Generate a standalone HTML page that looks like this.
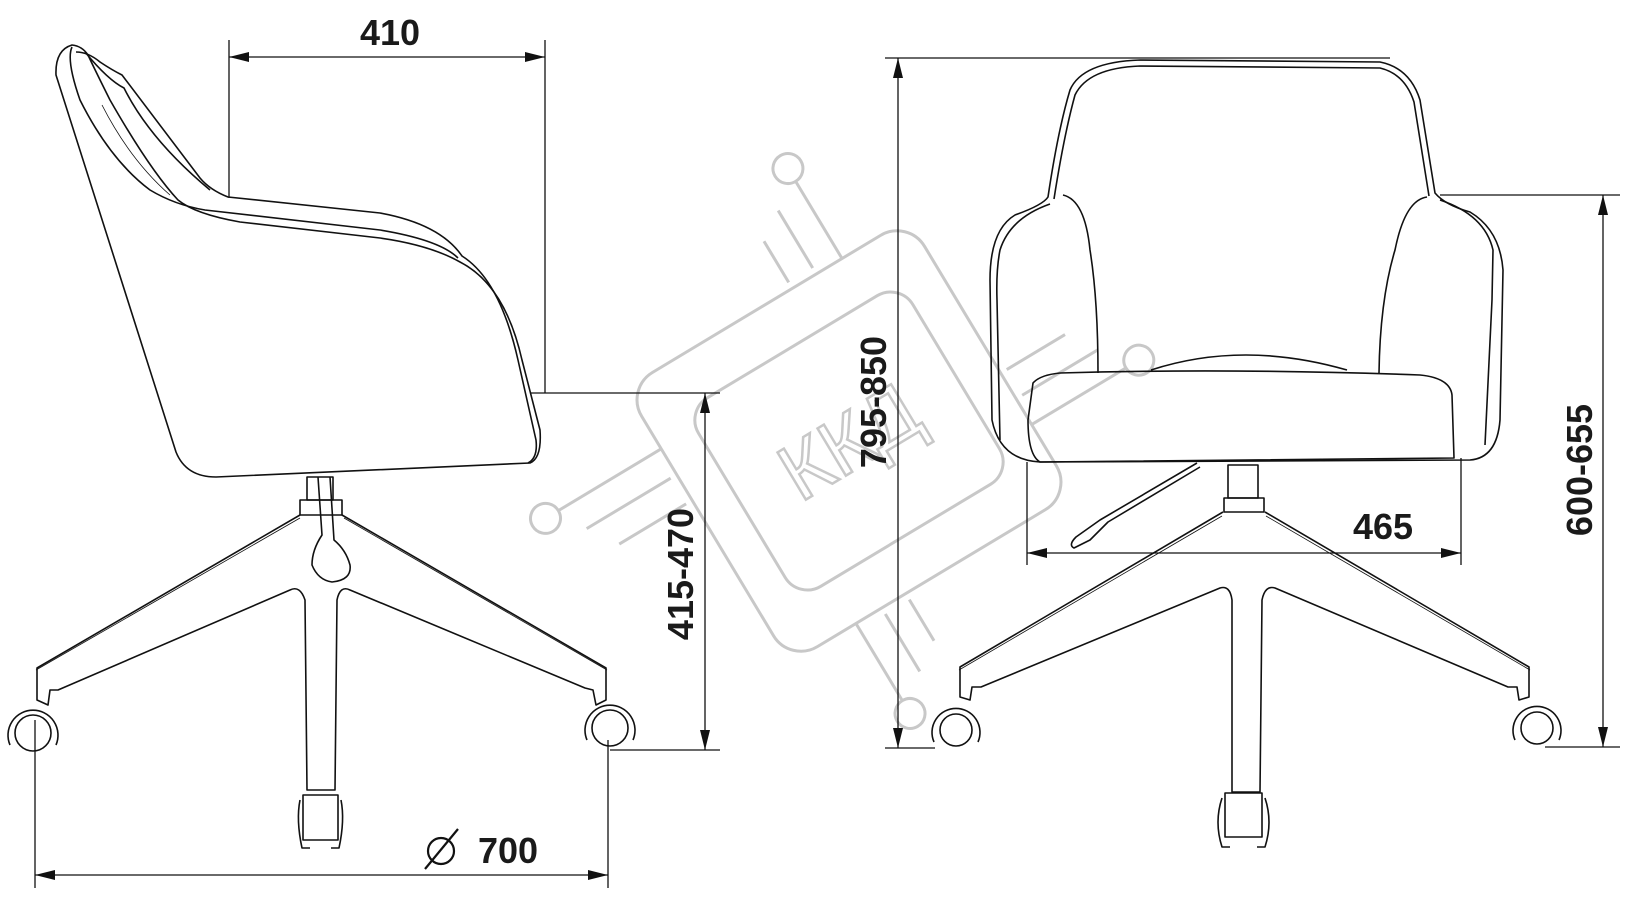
<!DOCTYPE html>
<html><head><meta charset="utf-8"><style>
html,body{margin:0;padding:0;background:#fff;}
svg{display:block;}
text{font-family:"Liberation Sans",sans-serif;font-weight:bold;fill:#1a1a1a;}
</style></head><body>
<svg width="1628" height="900" viewBox="0 0 1628 900" xmlns="http://www.w3.org/2000/svg">
<defs>
<marker id="ar" viewBox="0 0 20 10" refX="20" refY="5" markerWidth="20" markerHeight="10" markerUnits="userSpaceOnUse" orient="auto-start-reverse">
<path d="M0,0 L20,5 L0,10 Z" fill="#111"/>
</marker>
</defs>

<!-- watermark -->
<g transform="translate(849,441) rotate(-31)" fill="none" stroke="#c8c8c8" stroke-width="3">
<rect x="-165" y="-160" width="330" height="320" rx="32"/>
<rect x="-125" y="-110" width="250" height="220" rx="26"/>
<text x="0" y="28" text-anchor="middle" font-size="80" style="fill:none;stroke:#c8c8c8;stroke-width:2.5;font-weight:normal">ККД</text>
<circle cx="88" cy="-265" r="15"/><line x1="88" y1="-250" x2="88" y2="-160"/>
<line x1="58" y1="-234" x2="58" y2="-167"/><line x1="30" y1="-215" x2="30" y2="-167"/>
<circle cx="-88" cy="265" r="15"/><line x1="-88" y1="250" x2="-88" y2="160"/>
<line x1="-58" y1="234" x2="-58" y2="167"/><line x1="-30" y1="215" x2="-30" y2="167"/>
<circle cx="-300" cy="-90" r="15"/><line x1="-285" y1="-90" x2="-165" y2="-90"/>
<line x1="-270" y1="-60" x2="-172" y2="-60"/><line x1="-250" y1="-30" x2="-172" y2="-30"/>
<circle cx="290" cy="80" r="15"/><line x1="275" y1="80" x2="165" y2="80"/>
<line x1="260" y1="50" x2="172" y2="50"/><line x1="240" y1="20" x2="172" y2="20"/>
</g>

<g fill="none" stroke="#111" stroke-width="1.6" stroke-linejoin="round">
<!-- SIDE VIEW -->
<path d="M72,45 Q55,50 56,75 L176,452 Q186,477 216,477 L530,463 Q542,458 540,430 L522,360 Q505,285 460,262 Q430,245 380,238 L240,222 Q195,214 178,200 Q150,170 110,100 Q95,70 88,55 Q82,46 72,45 Z"/>
<path d="M72,47 Q66,60 80,100 Q110,160 150,190 Q175,205 205,210 L380,230 Q440,240 458,258"/>
<path d="M76,52 Q88,52 100,62 Q112,70 122,75 L200,178 Q210,190 228,197 L380,213 Q440,224 462,256 Q500,280 518,360 L536,440 Q538,458 528,463"/>
<path d="M85,52 Q108,80 124,88 Q150,140 210,190"/>
<path d="M102,105 Q130,160 170,195" stroke-width="0.8"/>
<!-- column -->
<rect x="307" y="477" width="26" height="23"/>
<path d="M300,500 L342,500 L342,515 L300,515 Z"/>
<path d="M318,477 L322,535 Q312,550 312,565 Q318,580 332,582 Q352,580 350,565 Q346,550 334,540 L330,477"/>
<!-- legs -->
<path d="M300,515 L37,668 L37,700 L48,705 L50,690 L58,690 L290,590 Q300,585 305,600 L307,790 L335,790 L337,600 Q340,585 350,590 L585,688 L593,690 L596,705 L606,700 L606,668 L342,515"/>
<path d="M36,670 L300,518" stroke-width="0.8"/>
<path d="M607,670 L344,518" stroke-width="0.8"/>
<!-- wheels side -->
<circle cx="33" cy="733" r="18"/><path d="M10,745 A25,25 0 1 1 56,745"/>
<circle cx="610" cy="728" r="18"/><path d="M587,740 A25,25 0 1 1 633,740"/>
<rect x="303" y="795" width="35" height="45"/>
<path d="M300,800 Q296,820 302,848 L310,848 M341,800 Q345,820 339,848 L331,848"/>

<!-- FRONT VIEW -->
<path d="M1048,197 Q1058,130 1070,90 Q1082,62 1140,60 L1380,62 Q1410,68 1420,100 L1435,193 Q1445,205 1470,212 Q1500,230 1503,270 L1500,420 Q1497,458 1470,460 L1040,462 Q1000,460 992,420 L990,280 Q990,230 1015,215 Q1043,205 1048,197 Z"/>
<path d="M1054,199 Q1064,135 1075,95 Q1088,68 1140,66 L1380,68 Q1405,74 1414,102 L1429,196"/>
<path d="M1050,204 Q1010,218 1000,250 Q996,270 997,300 L1000,440"/>
<path d="M1440,200 Q1485,215 1493,250 L1492,300 L1485,445"/>
<path d="M1063,195 Q1085,200 1090,250 Q1098,300 1098,373"/>
<path d="M1427,197 Q1405,200 1395,250 Q1380,300 1379,373"/>
<path d="M1151,370 Q1243,340 1347,370"/>
<path d="M1033,383 Q1040,375 1060,373 Q1230,368 1420,375 Q1450,378 1452,395 L1454,458 L1040,462 Q1028,455 1028,420 Z"/>
<!-- front base -->
<rect x="1228" y="465" width="30" height="33"/>
<rect x="1224" y="498" width="40" height="14"/>
<path d="M1197,463 L1100,520 L1076,537 Q1068,545 1074,548 L1090,540 L1108,522 L1200,467"/>
<path d="M1223,512 L960,667 L960,697 L970,700 L972,687 L981,687 L1220,588 Q1230,585 1232,600 L1232,792 L1260,792 L1262,600 Q1265,585 1275,588 L1508,687 L1517,687 L1519,700 L1529,697 L1529,667 L1265,512"/>
<path d="M959,670 L1222,516" stroke-width="0.8"/>
<path d="M1530,670 L1266,516" stroke-width="0.8"/>
<circle cx="956" cy="730" r="16"/><path d="M934,742 A24,24 0 1 1 978,742"/>
<circle cx="1537" cy="728" r="16"/><path d="M1515,740 A24,24 0 1 1 1559,740"/>
<rect x="1225" y="793" width="37" height="44"/>
<path d="M1222,798 Q1214,822 1222,847 L1230,847 M1265,798 Q1273,822 1265,847 L1257,847"/>
</g>

<!-- DIMENSIONS -->
<g stroke="#111" stroke-width="1.3" fill="none">
<line x1="229" y1="40" x2="229" y2="198"/>
<line x1="545" y1="40" x2="545" y2="393"/>
<line x1="229" y1="57" x2="545" y2="57" marker-start="url(#ar)" marker-end="url(#ar)"/>
<line x1="530" y1="393" x2="720" y2="393"/>
<line x1="610" y1="750" x2="720" y2="750"/>
<line x1="705" y1="393" x2="705" y2="750" marker-start="url(#ar)" marker-end="url(#ar)"/>
<line x1="885" y1="58" x2="1390" y2="58"/>
<line x1="885" y1="748" x2="935" y2="748"/>
<line x1="898" y1="58" x2="898" y2="748" marker-start="url(#ar)" marker-end="url(#ar)"/>
<line x1="1440" y1="195" x2="1620" y2="195"/>
<line x1="1545" y1="747" x2="1620" y2="747"/>
<line x1="1603" y1="195" x2="1603" y2="747" marker-start="url(#ar)" marker-end="url(#ar)"/>
<line x1="1027" y1="462" x2="1027" y2="565"/>
<line x1="1461" y1="458" x2="1461" y2="565"/>
<line x1="1027" y1="553" x2="1461" y2="553" marker-start="url(#ar)" marker-end="url(#ar)"/>
<line x1="35" y1="720" x2="35" y2="888"/>
<line x1="608" y1="740" x2="608" y2="888"/>
<line x1="35" y1="875" x2="608" y2="875" marker-start="url(#ar)" marker-end="url(#ar)"/>
<circle cx="441" cy="851" r="13" stroke-width="2.2"/>
<line x1="425" y1="869" x2="458" y2="829" stroke-width="2.2"/>
</g>
<text x="390" y="45" text-anchor="middle" font-size="36">410</text>
<text x="508" y="863" text-anchor="middle" font-size="36">700</text>
<text x="1383" y="539" text-anchor="middle" font-size="36">465</text>
<text transform="translate(693,574) rotate(-90)" text-anchor="middle" font-size="36">415-470</text>
<text transform="translate(886,402) rotate(-90)" text-anchor="middle" font-size="36">795-850</text>
<text transform="translate(1592,470) rotate(-90)" text-anchor="middle" font-size="36">600-655</text>
</svg>
</body></html>
